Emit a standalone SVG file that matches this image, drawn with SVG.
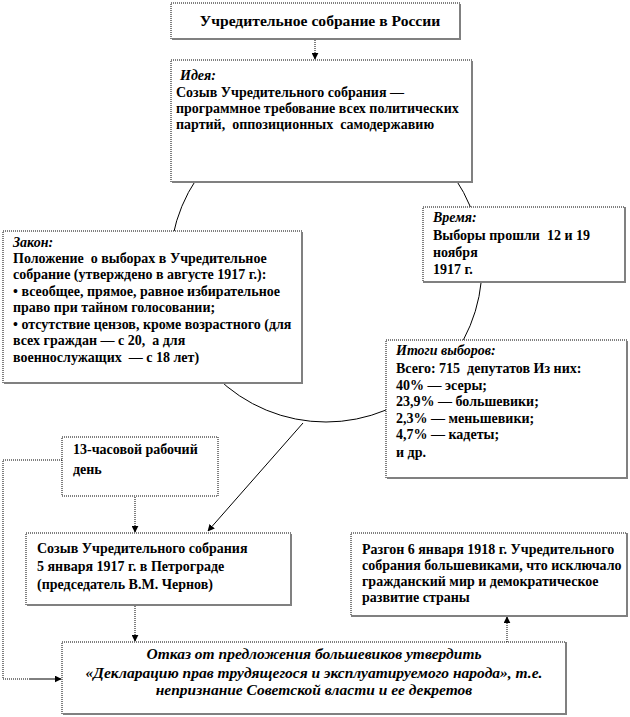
<svg xmlns="http://www.w3.org/2000/svg" width="630" height="717" viewBox="0 0 630 717">
<style>
  .box { fill: #fff; stroke: #000; stroke-width: 1; stroke-dasharray: 1 1; }
  .sh { fill: none; stroke: #808080; stroke-width: 2; }
  .t { font-family: "Liberation Serif", "Times New Roman", serif; font-size: 14px; font-weight: bold; fill: #000; white-space: pre; }
  .i { font-style: italic; }
  .ttl { font-size: 15.6px; }
  .big { font-size: 15.5px; }
  .dot { fill: none; stroke: #000; stroke-width: 1; stroke-dasharray: 1 1; }
  .sol { fill: none; stroke: #000; stroke-width: 1; }
</style>
<defs>
  <marker id="ah" viewBox="0 0 10 10" refX="9" refY="5" markerWidth="7" markerHeight="7" orient="auto" markerUnits="userSpaceOnUse">
    <path d="M0,0 L10,5 L0,10 z" fill="#000"/>
  </marker>
</defs>
<rect width="630" height="717" fill="#fff"/>
<g id="circle">
  <circle cx="326" cy="266" r="156" fill="none" stroke="#000" stroke-width="1"/>
</g>
<g id="connectors">
  <line class="dot" x1="315" y1="40" x2="315" y2="59" marker-end="url(#ah)"/>
  <line class="sol" x1="303" y1="423" x2="208" y2="531" marker-end="url(#ah)"/>
  <line class="dot" x1="135" y1="497" x2="135" y2="532" marker-end="url(#ah)"/>
  <line class="dot" x1="135" y1="606" x2="135" y2="641" marker-end="url(#ah)"/>
  <polyline class="dot" points="62,460 3,460 3,679 30,679"/>
  <line class="sol" x1="30" y1="679" x2="61" y2="679" marker-end="url(#ah)"/>
  <line class="dot" x1="507" y1="642" x2="507" y2="617" marker-end="url(#ah)"/>
</g>
<g id="title">
  <rect class="box" x="171" y="3" width="289" height="36"/>
  <polyline class="sh" points="460,4 460,39 172,39"/>
  <text class="t ttl" x="320" y="26" text-anchor="middle">Учредительное собрание в России</text>
</g>
<g id="idea">
  <rect class="box" x="171" y="60" width="301" height="122"/>
  <polyline class="sh" points="472,61 472,182 172,182"/>
  <text class="t i" x="180" y="80">Идея:</text>
  <text class="t" x="176" y="97">Созыв Учредительного собрания —</text>
  <text class="t" x="176" y="113">программное требование всех политических</text>
  <text class="t" x="176" y="129">партий,  оппозиционных  самодержавию</text>
</g>
<g id="law">
  <rect class="box" x="3" y="231" width="299" height="152"/>
  <polyline class="sh" points="302,232 302,383 4,383"/>
  <text class="t i" x="13" y="247">Закон:</text>
  <text class="t" x="13" y="263">Положение  о выборах в Учредительное</text>
  <text class="t" x="13" y="279">собрание (утверждено в августе 1917 г.):</text>
  <text class="t" x="13" y="296">• всеобщее, прямое, равное избирательное</text>
  <text class="t" x="13" y="312">право при тайном голосовании;</text>
  <text class="t" x="13" y="329">• отсутствие цензов, кроме возрастного (для</text>
  <text class="t" x="13" y="345">всех граждан — с 20,  а для</text>
  <text class="t" x="13" y="362">военнослужащих  — с 18 лет)</text>
</g>
<g id="time">
  <rect class="box" x="423" y="207" width="202" height="75"/>
  <polyline class="sh" points="625,208 625,282 424,282"/>
  <text class="t i" x="433" y="222">Время:</text>
  <text class="t" x="433" y="240">Выборы прошли  12 и 19</text>
  <text class="t" x="433" y="257">ноября</text>
  <text class="t" x="433" y="274">1917 г.</text>
</g>
<g id="results">
  <rect class="box" x="386" y="340" width="241" height="138"/>
  <polyline class="sh" points="627,341 627,478 387,478"/>
  <text class="t i" x="396" y="355">Итоги выборов:</text>
  <text class="t" x="396" y="373">Всего: 715  депутатов Из них:</text>
  <text class="t" x="396" y="390">40% — эсеры;</text>
  <text class="t" x="396" y="406">23,9% — большевики;</text>
  <text class="t" x="396" y="423">2,3% — меньшевики;</text>
  <text class="t" x="396" y="439">4,7% — кадеты;</text>
  <text class="t" x="396" y="457">и др.</text>
</g>
<g id="workday">
  <rect class="box" x="62" y="437" width="156" height="59"/>
  <text class="t" x="73" y="454">13-часовой рабочий</text>
  <text class="t" x="73" y="474">день</text>
</g>
<g id="convocation">
  <rect class="box" x="26" y="533" width="265" height="72"/>
  <polyline class="sh" points="291,534 291,605 27,605"/>
  <text class="t" x="37" y="553">Созыв Учредительного собрания</text>
  <text class="t" x="37" y="571">5 января 1917 г. в Петрограде</text>
  <text class="t" x="37" y="589">(председатель В.М. Чернов)</text>
</g>
<g id="dispersal">
  <rect class="box" x="351" y="533" width="276" height="83"/>
  <polyline class="sh" points="627,534 627,616 352,616"/>
  <text class="t" x="362" y="554">Разгон 6 января 1918 г. Учредительного</text>
  <text class="t" x="362" y="570">собрания большевиками, что исключало</text>
  <text class="t" x="362" y="586">гражданский мир и демократическое</text>
  <text class="t" x="362" y="602">развитие страны</text>
</g>
<g id="refusal">
  <rect class="box" x="62" y="642" width="504" height="72"/>
  <polyline class="sh" points="566,643 566,714 63,714"/>
  <text class="t i big" x="314" y="659" text-anchor="middle">Отказ от предложения большевиков утвердить</text>
  <text class="t i big" x="314" y="678" text-anchor="middle">«Декларацию прав трудящегося и эксплуатируемого народа», т.е.</text>
  <text class="t i big" x="314" y="695" text-anchor="middle">непризнание Советской власти и ее декретов</text>
</g>
</svg>
